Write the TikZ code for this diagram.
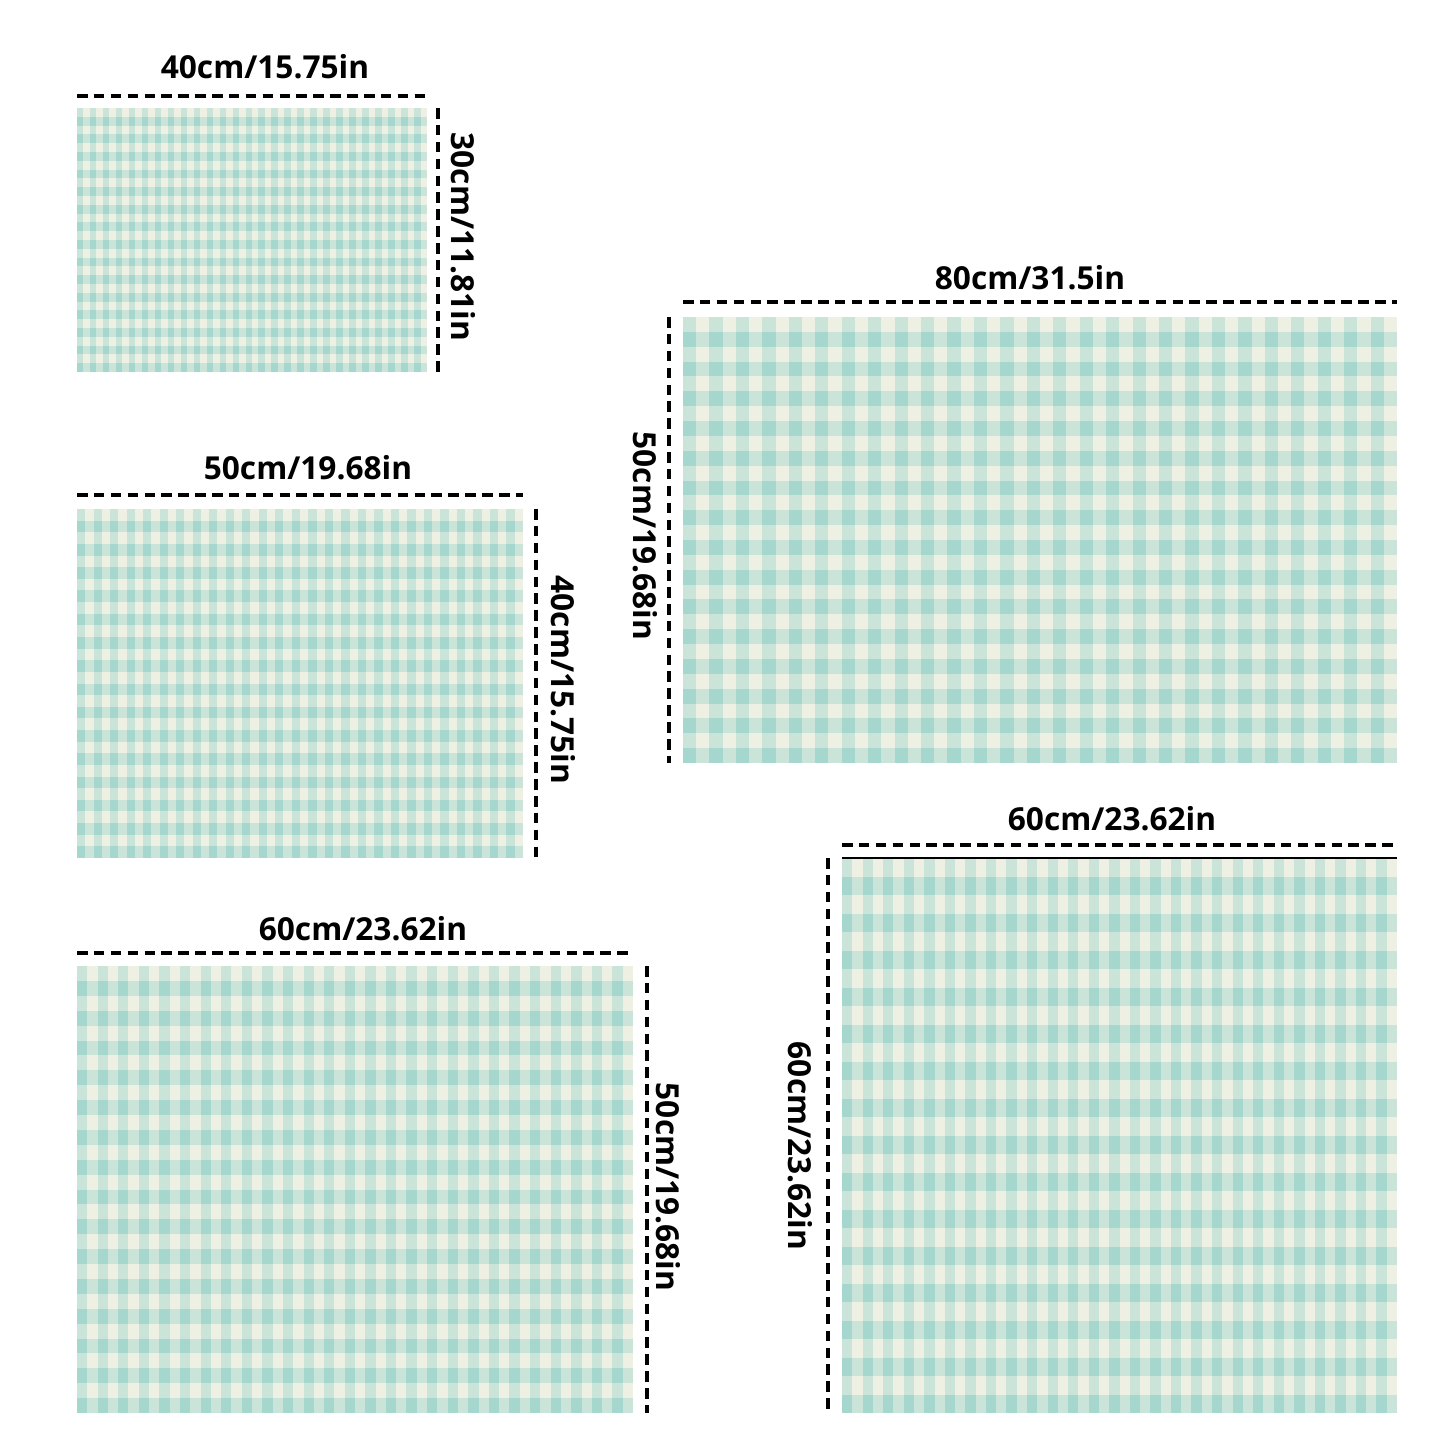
\documentclass[tikz,border=0pt]{standalone}
\usepackage{fontspec}
\setmainfont{Open Sans}
\usetikzlibrary{calc}
\definecolor{matlight}{RGB}{237,240,226}
\definecolor{matmid}{RGB}{202,228,217}
\definecolor{matdark}{RGB}{166,215,206}
\tikzset{
	px/.style={x=0.01cm,y=-0.01cm},
	dimline/.style={black,line width=1pt,dash pattern=on 3pt off 1.8pt},
	dimlabel/.style={font=\bfseries\fontsize{9}{10}\selectfont,inner sep=0pt},
	sidelabel/.style={dimlabel,rotate=-90}
}
% checked mat: x0, y0, x1, y1 (pixels)
\newcommand{\gingham}[4]{%
	\pgfmathsetmacro{\cw}{(#3-#1)/27}
	\pgfmathsetmacro{\ch}{(#4-#2)/15}
	\fill[matlight] (#1,#2) rectangle (#3,#4);
	\foreach \i in {0,...,26} { \fill[matmid] ({#1+\i*\cw},#2) rectangle ({#1+(\i+0.5)*\cw},#4); }
	\foreach \j in {0,...,14} { \fill[matmid] (#1,{#2+(\j+0.5)*\ch}) rectangle (#3,{#2+(\j+1)*\ch}); }
	\foreach \i in {0,...,26} { \foreach \j in {0,...,14} { \fill[matdark] ({#1+\i*\cw},{#2+(\j+0.5)*\ch}) rectangle ({#1+(\i+0.5)*\cw},{#2+(\j+1)*\ch}); } }
}

\begin{document}
\begin{tikzpicture}[px]

	\useasboundingbox[fill=white] (0,0) rectangle (1440,1440);

	% 40 x 30
	\gingham{77}{108}{427}{372}
	\draw[dimline] (77,96) coordinate (Atl) -- (427,96) coordinate (Atr);
	\draw[dimline] (438,108) coordinate (Art) -- (438,372) coordinate (Arb);
	\node[dimlabel]		(Awidth)	at (265,67)		{40cm/15.75in};
	\node[sidelabel]	(Aheight)	at (463,237)	{30cm/11.81in};

	% 50 x 40
	\gingham{77}{509}{523}{858}
	\draw[dimline] (77,495) coordinate (Btl) -- (523,495) coordinate (Btr);
	\draw[dimline] (536,509) coordinate (Brt) -- (536,858) coordinate (Brb);
	\node[dimlabel]		(Bwidth)	at (308,468)	{50cm/19.68in};
	\node[sidelabel]	(Bheight)	at (563,680)	{40cm/15.75in};

	% 60 x 50
	\gingham{77}{966}{633}{1413}
	\draw[dimline] (77,953) coordinate (Ctl) -- (630,953) coordinate (Ctr);
	\draw[dimline] (647,966) coordinate (Crt) -- (647,1413) coordinate (Crb);
	\node[dimlabel]		(Cwidth)	at (363,929)	{60cm/23.62in};
	\node[sidelabel]	(Cheight)	at (668,1187)	{50cm/19.68in};

	% 80 x 50
	\gingham{683}{317}{1397}{763}
	\draw[dimline] (683,302) coordinate (Dtl) -- (1397,302) coordinate (Dtr);
	\draw[dimline] (669,317) coordinate (Dlt) -- (669,763) coordinate (Dlb);
	\node[dimlabel]		(Dwidth)	at (1030,278)	{80cm/31.5in};
	\node[sidelabel]	(Dheight)	at (645,536)	{50cm/19.68in};

	% 60 x 60
	\gingham{842}{858}{1397}{1413}
	\draw[black,line width=0.4pt] (842,858) -- (1397,858);
	\draw[dimline] (842,845) coordinate (Etl) -- (1397,845) coordinate (Etr);
	\draw[dimline] (828,858) coordinate (Elt) -- (828,1410) coordinate (Elb);
	\node[dimlabel]		(Ewidth)	at (1112,819)	{60cm/23.62in};
	\node[sidelabel]	(Eheight)	at (800,1146)	{60cm/23.62in};

\end{tikzpicture}
\end{document}
